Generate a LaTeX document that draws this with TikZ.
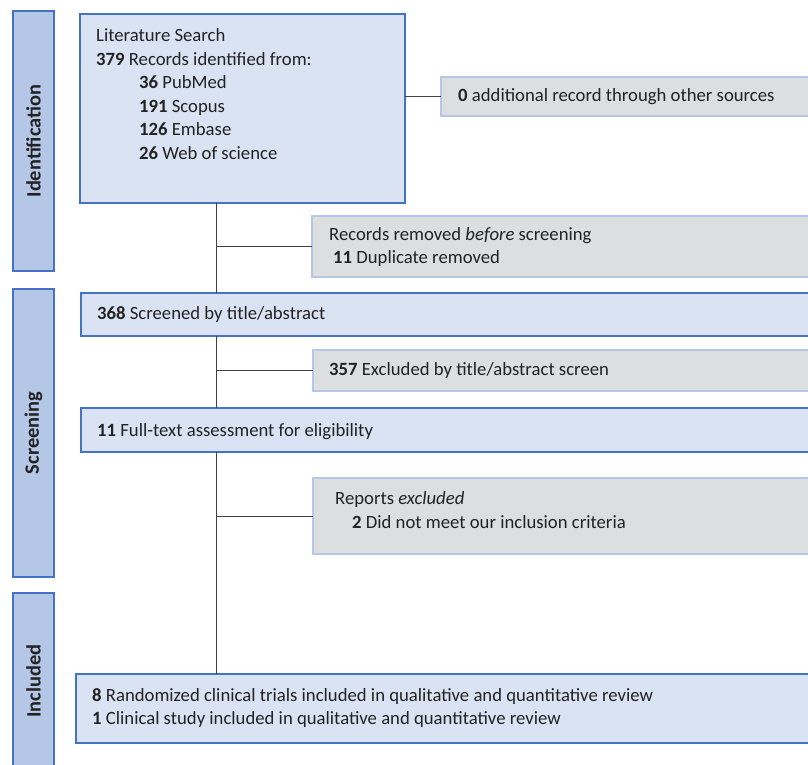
\documentclass[tikz,border=0pt]{standalone}
\usepackage{fontspec}
\setmainfont{Carlito}
\usetikzlibrary{calc}

\definecolor{boxfill}{HTML}{DAE3F3}
\definecolor{boxline}{HTML}{4472C4}
\definecolor{greyfill}{HTML}{DDDEE0}
\definecolor{greyline}{HTML}{B4C7E7}
\definecolor{barfill}{HTML}{B4C7E7}
\definecolor{linkcol}{HTML}{404040}
\definecolor{txtcol}{HTML}{222222}

\begin{document}
\begin{tikzpicture}[x=1pt, y=-1pt,
    bluebox/.style={draw=boxline, fill=boxfill, line width=1.5pt, anchor=north west, inner sep=0pt, outer sep=0pt},
    greybox/.style={draw=greyline, fill=greyfill, line width=1.5pt, anchor=north west, inner sep=0pt, outer sep=0pt},
    phasebar/.style={draw=boxline, fill=barfill, line width=1.5pt, rotate=90, inner sep=0pt, outer sep=0pt,
        minimum height=41pt, font=\fontsize{20.4}{24}\selectfont\bfseries, text=txtcol},
    boxtext/.style={anchor=west, align=left, inner sep=0pt, font=\fontsize{18.7}{23.5}\selectfont, text=txtcol},
    link/.style={draw=linkcol, line width=1pt}]

        \useasboundingbox (0,0) rectangle (808,765);
        \clip (0,0) rectangle (808,765);

        % phase bars
        \node[phasebar, minimum width=260pt] (idbar) at (33.5,141) {Identification};
        \node[phasebar, minimum width=288pt] (scbar) at (33.5,433) {Screening};
        \node[phasebar, minimum width=176pt] (inbar) at (33.5,681) {Included};

        % boxes
        \node[bluebox, minimum width=325pt, minimum height=189pt] (lit) at (80,14) {};
        \node[greybox, minimum width=400pt, minimum height=39pt] (other) at (441,77) {};
        \node[greybox, minimum width=520pt, minimum height=61pt] (rem) at (312,216) {};
        \node[bluebox, minimum width=760pt, minimum height=43pt] (screen) at (81,293) {};
        \node[greybox, minimum width=520pt, minimum height=41pt] (excl) at (313,350) {};
        \node[bluebox, minimum width=760pt, minimum height=44pt] (full) at (81,408) {};
        \node[greybox, minimum width=520pt, minimum height=76pt] (rep) at (313,478) {};
        \node[bluebox, minimum width=760pt, minimum height=69pt] (final) at (76,674) {};

        % texts
        \node[boxtext] (littxt) at (96,94) {Literature Search\\
            \textbf{379} Records identified from:\\
            \hspace*{43pt}\textbf{36} PubMed\\
            \hspace*{43pt}\textbf{191} Scopus\\
            \hspace*{43pt}\textbf{126} Embase\\
            \hspace*{43pt}\textbf{26} Web of science};
        \node[boxtext] (othertxt) at (458,97) {\textbf{0} additional record through other sources};
        \node[boxtext] (remtxt) at (329,247) {Records removed \textit{before} screening\\
            \hspace*{4pt}\textbf{11} Duplicate removed};
        \node[boxtext] (screentxt) at (97,315) {\textbf{368} Screened by title/abstract};
        \node[boxtext] (excltxt) at (329,371) {\textbf{357} Excluded by title/abstract screen};
        \node[boxtext] (fulltxt) at (97,432) {\textbf{11} Full-text assessment for eligibility};
        \node[boxtext] (reptxt) at (335,510) {Reports \textit{excluded}\\
            \hspace*{17pt}\textbf{2} Did not meet our inclusion criteria};
        \node[boxtext] (finaltxt) at (92,708) {\textbf{8} Randomized clinical trials included in qualitative and quantitative review\\
            \textbf{1} Clinical study included in qualitative and quantitative review};

        % connectors
        \coordinate (spine) at (216,0);
        \draw[link] (lit.south -| spine) -- (screen.north -| spine);
        \draw[link] (screen.south -| spine) -- (full.north -| spine);
        \draw[link] (full.south -| spine) -- (final.north -| spine);
        \draw[link] (lit.east |- other.west) -- (other.west);
        \draw[link] (spine |- rem.west) -- (rem.west);
        \draw[link] (spine |- excl.west) -- (excl.west);
        \draw[link] (spine |- rep.west) -- (rep.west);
\end{tikzpicture}
\end{document}
